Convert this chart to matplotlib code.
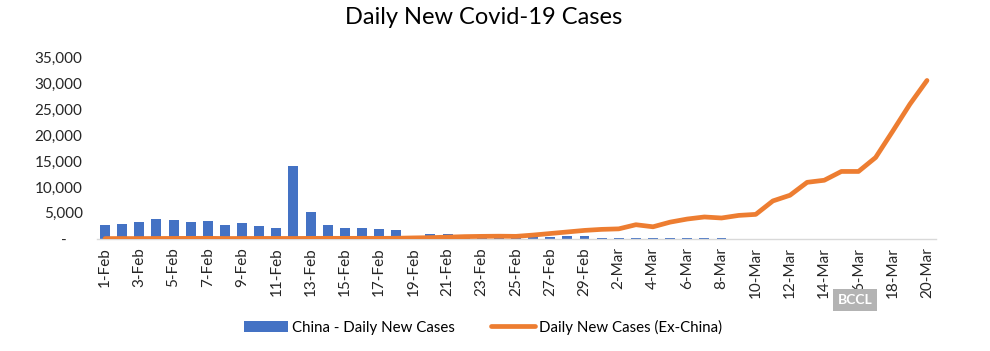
import numpy as np
import pandas as pd
import matplotlib
matplotlib.use("Agg")
import matplotlib.pyplot as plt
from matplotlib.ticker import FuncFormatter

plt.rcParams['font.family'] = ['Lato', 'DejaVu Sans']

dates = pd.date_range('2020-02-01', '2020-03-20', freq='D')
labels = [f"{d.day}-{d.strftime('%b')}" for d in dates]

# China - daily new cases (1-Feb .. 20-Mar)
china = [2600, 2830, 3240, 3890, 3700, 3150, 3390, 2660, 2980, 2480,
         2020, 14110, 5100, 2650, 2010, 2050, 1890, 1750, 400, 890,
         830, 650, 410, 510, 410, 440, 330, 430, 580, 200,
         125, 120, 140, 145, 100, 45, 40, 20, 25, 15,
         8, 10, 10, 12, 10, 8, 10, 10, 10]

# Daily new cases outside China
ex_china = [20, 30, 25, 40, 50, 60, 70, 30, 40, 50,
            50, 40, 60, 70, 60, 70, 60, 80, 150, 200,
            300, 400, 450, 480, 450, 700, 1000, 1300, 1600, 1800,
            1900, 2700, 2300, 3200, 3800, 4200, 4000, 4500, 4700, 7300,
            8400, 10900, 11300, 13000, 13000, 15700, 20800, 26000, 30600]

x = np.arange(len(dates))

fig = plt.figure(figsize=(9.9, 3.51), dpi=100)
ax = fig.add_axes([0.0975, 0.32, 0.8475, 0.5156])

bars = ax.bar(x, china, width=0.58, color='#4472C4', label='China - Daily New Cases', zorder=2)
line, = ax.plot(x, ex_china, color='#ED7D31', linewidth=3.4, solid_capstyle='round',
                label='Daily New Cases (Ex-China)', zorder=3)

ax.set_xlim(-0.5, len(dates) - 0.5)
ax.set_ylim(0, 35000)
ax.set_yticks(np.arange(0, 35001, 5000))
ax.yaxis.set_major_formatter(FuncFormatter(lambda v, p: '-    ' if v == 0 else f'{v:,.0f}'))
ax.set_xticks(x[::2])
ax.set_xticklabels(labels[::2], rotation=90)

for s in ['top', 'right', 'left']:
    ax.spines[s].set_visible(False)
ax.spines['bottom'].set_color('#D9D9D9')
ax.spines['bottom'].set_linewidth(1.0)
ax.tick_params(axis='both', length=0, labelsize=11, colors='#262626')
ax.tick_params(axis='y', pad=10)
ax.tick_params(axis='x', pad=6)

fig.text(0.489, 0.95, 'Daily New Covid-19 Cases', ha='center', va='center',
         fontsize=17, color='#000000')

leg = fig.legend(handles=[bars, line], loc='center', bbox_to_anchor=(0.488, 0.068), ncol=2,
                 frameon=False, fontsize=10.8, handlelength=2.9, handleheight=0.7,
                 columnspacing=2.4, handletextpad=0.3)
leg.get_lines()[0].set_linewidth(3.4)

# watermark box from the source image
fig.text(0.8635, 0.146, 'BCCL', ha='center', va='center', fontsize=10,
         fontweight='bold', color='white', zorder=10,
         bbox=dict(boxstyle='square,pad=0.35', facecolor='#B3B3B3', edgecolor='none'))

fig.savefig('out.png', dpi=100)
